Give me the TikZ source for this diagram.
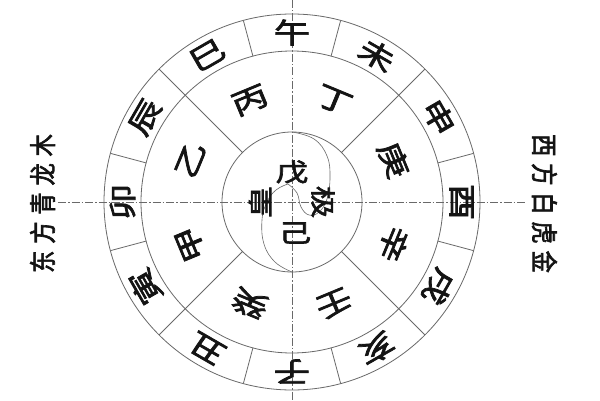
\documentclass[tikz,border=0pt]{standalone}
\usepackage{fontspec}
\newfontfamily\cjk[FakeStretch=1.3,FakeBold=2.6]{Noto Sans CJK SC}
\newfontfamily\cjkside[FakeStretch=0.82,FakeBold=2.4]{Noto Sans CJK SC}
\usetikzlibrary{calc}
\definecolor{linegray}{RGB}{105,105,105}
\definecolor{ink}{RGB}{20,20,20}
\begin{document}
\begin{tikzpicture}[x=1pt,y=1pt,
  ring/.style={draw=linegray,line width=0.8pt},
  axisline/.style={draw=linegray,line width=0.7pt,dash pattern=on 8pt off 2pt on 1.5pt off 2pt},
  ringch/.style={font=\cjk\fontsize{28}{28}\selectfont,text=ink,inner sep=0pt},
  centerch/.style={font=\cjk\fontsize{25}{25}\selectfont,text=ink,inner sep=0pt},
  sidech/.style={font=\cjkside\fontsize{27}{27}\selectfont,text=ink,inner sep=0pt}]
\useasboundingbox (0,0) rectangle (600,400);
\fill[white] (0,0) rectangle (600,400);
\coordinate (C) at (292,198);
% axes
\coordinate (vt) at (292,400);
\coordinate (vb) at (292,0);
\coordinate (hl) at (58,198);
\coordinate (hr) at (525,198);
\draw[axisline] (vt) -- (vb);
\draw[axisline] (hl) -- (hr);
% circles
\draw[ring] (C) circle[radius=188];
\draw[ring] (C) circle[radius=151];
\draw[ring] (C) circle[radius=70];
% dividers
\foreach \a in {15,75,105,165,195,255,285,345}
  \draw[ring] ($(C)+(\a:151)$) -- ($(C)+(\a:188)$);
\foreach \a in {45,135,225,315}
  \draw[ring] ($(C)+(\a:70)$) -- ($(C)+(\a:188)$);
% taiji curve
\begin{scope}[shift={(C)}]
\draw[ring,line width=0.6pt] plot[smooth,tension=0.7] coordinates
  {(0,70) (22,63) (35,46) (38,25) (35,3) (27,-10) (17,-13) (9,-5) (5,9) (-4,18)};
\draw[ring,line width=0.6pt] plot[smooth,tension=0.7] coordinates
  {(-4,18) (-16,12) (-25,0) (-30,-18) (-28,-42) (-17,-60) (0,-70)};
\end{scope}
% earthly branches
\foreach \a/\ch [count=\i] in {90/午,60/未,30/申,0/酉,-30/戌,-60/亥,-90/子,-120/丑,-150/寅,180/卯,150/辰,120/巳}
  \node[ringch,rotate=\a-90] (b\i) at ($(C)+(\a:169.5)$) {\ch};
% heavenly stems
\foreach \a/\ch [count=\i] in {112.5/丙,67.5/丁,22.5/庚,-22.5/辛,-67.5/壬,-112.5/癸,-157.5/甲,157.5/乙}
  \node[ringch,rotate=\a-90] (s\i) at ($(C)+(\a:110)$) {\ch};
% center
\node[centerch] (wu) at ($(C)+(0,30)$) {戊};
\node[centerch] (ji) at ($(C)+(3,-31)$) {己};
\node[centerch,rotate=90] (huang) at ($(C)+(-32,0)$) {皇};
\node[centerch,rotate=-90] (jipole) at ($(C)+(31,0)$) {极};
% side texts
\node[sidech,rotate=90] (east) at (42.5,196.5) {东\hspace{7pt}方\hspace{7pt}青\hspace{7pt}龙\hspace{7pt}木};
\node[sidech,rotate=-90] (west) at (544.5,196.5) {西\hspace{7pt}方\hspace{7pt}白\hspace{7pt}虎\hspace{7pt}金};
\end{tikzpicture}
\end{document}
